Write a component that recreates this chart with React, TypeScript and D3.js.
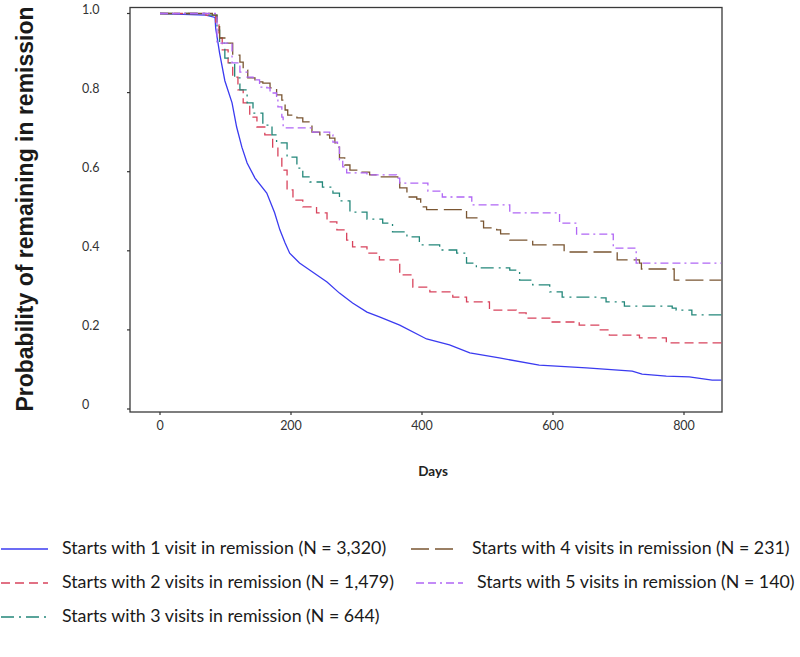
import React from "react";
import * as d3 from "d3";

// Kaplan–Meier survival estimates: [day, probability]
const series1: [number, number][] = [
  [0, 1.0], [70, 0.996], [84, 0.99], [85, 0.963], [91, 0.9], [99, 0.83], [110, 0.774], [117, 0.713],
  [125, 0.662], [133, 0.622], [145, 0.584], [163, 0.546], [175, 0.496], [183, 0.453], [191, 0.42],
  [198, 0.394], [213, 0.369], [229, 0.351], [255, 0.321], [274, 0.293], [294, 0.268], [316, 0.245],
  [335, 0.233], [366, 0.212], [407, 0.177], [442, 0.162], [473, 0.142], [518, 0.129], [579, 0.111],
  [651, 0.104], [721, 0.096], [736, 0.088], [773, 0.083], [808, 0.081], [843, 0.073], [857, 0.073],
];
const series2: [number, number][] = [
  [0, 1.0], [70, 0.996], [85, 0.971], [90, 0.938], [95, 0.908], [104, 0.875], [111, 0.839], [119, 0.807],
  [127, 0.774], [137, 0.738], [148, 0.713], [160, 0.693], [172, 0.662], [180, 0.637], [186, 0.604],
  [194, 0.554], [203, 0.528], [218, 0.511], [239, 0.496], [255, 0.473], [270, 0.453], [285, 0.427],
  [294, 0.41], [316, 0.394], [335, 0.377], [366, 0.339], [386, 0.308], [412, 0.296], [447, 0.283],
  [468, 0.271], [503, 0.25], [544, 0.243], [559, 0.23], [595, 0.22], [640, 0.212], [671, 0.2],
  [686, 0.187], [732, 0.18], [773, 0.167], [857, 0.167],
];
const series3: [number, number][] = [
  [0, 1.0], [70, 0.996], [87, 0.958], [91, 0.925], [99, 0.887], [104, 0.875], [114, 0.837], [122, 0.807],
  [133, 0.774], [142, 0.748], [157, 0.718], [171, 0.693], [178, 0.673], [194, 0.637], [209, 0.609],
  [218, 0.587], [229, 0.574], [248, 0.561], [264, 0.546], [274, 0.526], [290, 0.498], [316, 0.48],
  [340, 0.47], [355, 0.448], [377, 0.435], [396, 0.415], [427, 0.402], [453, 0.394], [468, 0.369],
  [483, 0.357], [534, 0.351], [549, 0.326], [569, 0.314], [595, 0.296], [614, 0.283], [671, 0.281],
  [681, 0.271], [709, 0.26], [782, 0.255], [788, 0.25], [812, 0.238], [857, 0.238],
];
const series4: [number, number][] = [
  [0, 1.0], [80, 0.996], [87, 0.971], [91, 0.938], [99, 0.925], [111, 0.895], [122, 0.877], [127, 0.857],
  [134, 0.837], [145, 0.827], [157, 0.824], [168, 0.812], [178, 0.794], [186, 0.781], [191, 0.756],
  [195, 0.743], [209, 0.736], [218, 0.726], [229, 0.718], [232, 0.7], [244, 0.693], [259, 0.685],
  [267, 0.673], [271, 0.662], [274, 0.635], [282, 0.617], [290, 0.604], [305, 0.599], [320, 0.592],
  [335, 0.587], [363, 0.579], [366, 0.559], [377, 0.536], [392, 0.531], [398, 0.511], [407, 0.504],
  [468, 0.483], [485, 0.475], [494, 0.458], [514, 0.453], [520, 0.443], [534, 0.427], [569, 0.415],
  [617, 0.397], [698, 0.377], [732, 0.369], [735, 0.354], [785, 0.326], [857, 0.326],
];
const series5: [number, number][] = [
  [0, 1.0], [87, 0.925], [110, 0.875], [122, 0.852], [133, 0.839], [142, 0.832], [152, 0.814],
  [163, 0.812], [168, 0.799], [178, 0.787], [180, 0.764], [186, 0.738], [188, 0.711], [233, 0.7],
  [259, 0.693], [264, 0.675], [271, 0.662], [274, 0.63], [279, 0.612], [285, 0.597], [316, 0.592],
  [361, 0.584], [366, 0.571], [409, 0.551], [431, 0.536], [476, 0.516], [534, 0.496], [610, 0.47],
  [636, 0.442], [692, 0.407], [727, 0.369], [857, 0.369],
];

const seriesLabels = [
  "Starts with 1 visit in remission (N = 3,320)",
  "Starts with 2 visits in remission (N = 1,479)",
  "Starts with 3 visits in remission (N = 644)",
  "Starts with 4 visits in remission (N = 231)",
  "Starts with 5 visits in remission (N = 140)",
];
const xTicks = [0, 200, 400, 600, 800];
const yTicks = [0, 0.2, 0.4, 0.6, 0.8, 1.0];
const yTickLabels = ["0", "0.2", "0.4", "0.6", "0.8", "1.0"];

const allSeries = [series1, series2, series3, series4, series5];
const colors = ["#3b3bf0", "#d8435c", "#23877a", "#7a5632", "#b066f5"];
const dashes = ["none", "9,5", "13,5,2,5", "18,6", "8,4,8,4,2,4"];

export default function App() {
  const frame = { left: 130, right: 722, top: 7.5, bottom: 412 };
  const x = d3.scaleLinear().domain([0, 800]).range([160, 684]);
  const y = d3.scaleLinear().domain([0, 1]).range([409, 13.5]);
  const stepLine = d3
    .line<[number, number]>()
    .x((d) => x(d[0]))
    .y((d) => y(d[1]))
    .curve(d3.curveStepAfter);
  // the largest group has so many events that its steps blur into a smooth line
  const denseLine = d3
    .line<[number, number]>()
    .x((d) => x(d[0]))
    .y((d) => y(d[1]))
    .curve(d3.curveLinear);

  const tickFont = "Lato, 'Open Sans', sans-serif";

  const legendItems = [
    { i: 0, lx: 1, tx: 62, y: 549 },
    { i: 1, lx: 1, tx: 62, y: 583 },
    { i: 2, lx: 1, tx: 62, y: 617 },
    { i: 3, lx: 411, tx: 472, y: 549 },
    { i: 4, lx: 416, tx: 477, y: 583 },
  ];

  return (
    <svg
      width={800}
      height={657}
      style={{ position: "absolute", left: 0, top: 0, background: "#fff" }}
    >
      <rect x={0} y={0} width={800} height={657} fill="#fff" />
      {/* frame */}
      <rect
        x={frame.left}
        y={frame.top}
        width={frame.right - frame.left}
        height={frame.bottom - frame.top}
        fill="none"
        stroke="#3a3a3a"
        strokeWidth={1.3}
      />
      {/* y ticks */}
      {yTicks.map((t, i) => (
        <g key={"yt" + i}>
          <line x1={127} x2={frame.left} y1={y(t)} y2={y(t)} stroke="#333" strokeWidth={1.2} />
          <text
            x={82}
            y={y(t) - 3}
            dominantBaseline="middle"
            fontFamily={tickFont}
            fontSize={12.5}
            fill="#333"
          >
            {yTickLabels[i]}
          </text>
        </g>
      ))}
      {/* x ticks */}
      {xTicks.map((t) => (
        <g key={"xt" + t}>
          <line x1={x(t)} x2={x(t)} y1={frame.bottom} y2={frame.bottom + 3} stroke="#333" strokeWidth={1.2} />
          <text
            x={x(t)}
            y={frame.bottom + 18}
            textAnchor="middle"
            fontFamily={tickFont}
            fontSize={12.5}
            fill="#333"
          >
            {t}
          </text>
        </g>
      ))}
      <text
        x={433}
        y={476}
        textAnchor="middle"
        fontFamily={tickFont}
        fontWeight="bold"
        fontSize={13.5}
        fill="#222"
      >
        Days
      </text>
      <text
        transform={`translate(33, 209) rotate(-90)`}
        textAnchor="middle"
        fontFamily="'Liberation Sans', Arial, sans-serif"
        fontWeight="bold"
        fontSize={23}
        fill="#1a1a1a"
      >
        Probability of remaining in remission
      </text>
      {/* curves */}
      <g>
        {allSeries.map((s, i) => (
          <path
            key={"s" + i}
            d={(i === 0 ? denseLine(s) : stepLine(s)) || ""}
            fill="none"
            stroke={colors[i]}
            strokeWidth={1.3}
            strokeDasharray={dashes[i]}
          />
        ))}
      </g>
      {/* legend */}
      {legendItems.map((it) => (
        <g key={"lg" + it.i}>
          <line
            x1={it.lx}
            x2={it.lx + 47}
            y1={it.y}
            y2={it.y}
            stroke={colors[it.i]}
            strokeWidth={1.3}
            strokeDasharray={dashes[it.i]}
          />
          <text
            x={it.tx}
            y={it.y}
            dominantBaseline="middle"
            fontFamily={tickFont}
            fontSize={17.8}
            fill="#1a1a1a"
          >
            {seriesLabels[it.i]}
          </text>
        </g>
      ))}
    </svg>
  );
}
